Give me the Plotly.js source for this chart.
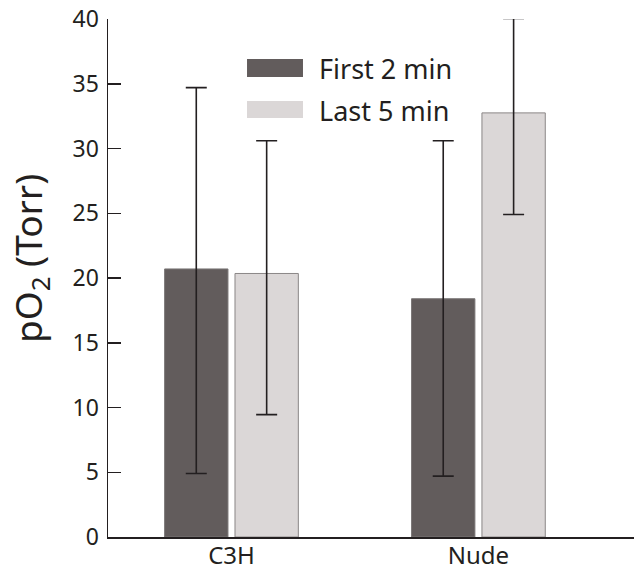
<!DOCTYPE html>
<html>
<head>
<meta charset="utf-8">
<script src="https://cdn.plot.ly/plotly-3.0.1.min.js"></script>
<style>html,body{margin:0;padding:0;background:#fff;}#chart{width:634px;height:571px;}</style>
</head>
<body>
<div id="chart"></div>
<script>
const categories = ['C3H', 'Nude'];
const seriesNames = ['First 2 min', 'Last 5 min'];
const first2Mean = [20.7, 18.4];
const first2Upper = [34.7, 30.6];
const first2Lower = [4.9, 4.7];
const last5Mean = [20.35, 32.75];
const last5Upper = [30.6, 40.05];
const last5Lower = [9.45, 24.9];
const yTicks = [0, 5, 10, 15, 20, 25, 30, 35, 40];
const yTitle = 'pO<sub>2</sub> (Torr)';

const FONT = 'Noto Sans, Open Sans, sans-serif';
const INK = '#231f20';
const DARK = '#625c5c';
const LIGHT = '#dbd7d7';

function errBar(mean, upper, lower) {
  return {
    type: 'data', symmetric: false,
    array: mean.map((m, i) => upper[i] - m),
    arrayminus: mean.map((m, i) => m - lower[i]),
    color: INK, thickness: 1.6, width: 10.5
  };
}

const traces = [
  { type: 'bar', name: seriesNames[0], x: categories, y: first2Mean, cliponaxis: false,
    marker: { color: DARK, line: { color: '#7a7676', width: 1 } },
    error_y: errBar(first2Mean, first2Upper, first2Lower), showlegend: false },
  { type: 'bar', name: seriesNames[1], x: categories, y: last5Mean, cliponaxis: false,
    marker: { color: LIGHT, line: { color: '#8a8686', width: 1 } },
    error_y: errBar(last5Mean, last5Upper, last5Lower), showlegend: false }
];

const layout = {
  width: 634, height: 571,
  margin: { l: 108, r: 0, t: 19, b: 34 },
  paper_bgcolor: '#fff', plot_bgcolor: '#fff',
  barmode: 'group', bargap: 0.43, bargroupgap: 0.1,
  font: { family: FONT, color: INK },
  showlegend: false,
  xaxis: {
    type: 'category', range: [-0.5, 1.63],
    showline: true, linecolor: INK, linewidth: 1.5,
    ticks: '', showgrid: false, zeroline: false,
    ticklabelstandoff: -3,
    tickfont: { family: FONT, size: 24, color: INK }
  },
  yaxis: {
    range: [0, 40], tickvals: yTicks, ticktext: yTicks.map(String),
    showline: true, linecolor: INK, linewidth: 1.5,
    ticks: 'inside', ticklen: 13, tickwidth: 1.5, tickcolor: INK,
    showgrid: false, zeroline: false,
    ticklabelstandoff: 3,
    tickfont: { family: FONT, size: 23, color: INK }
  },
  shapes: [
    { type: 'rect', xref: 'paper', yref: 'paper', x0: 0.2643, x1: 0.3707, y0: 0.888, y1: 0.9228,
      fillcolor: DARK, line: { width: 0 } },
    { type: 'rect', xref: 'paper', yref: 'paper', x0: 0.2643, x1: 0.3707, y0: 0.8089, y1: 0.8417,
      fillcolor: LIGHT, line: { width: 0 } }
  ],
  annotations: [
    { xref: 'paper', yref: 'paper', x: 0.3973, y: 0.9054, xanchor: 'left', yanchor: 'middle',
      text: seriesNames[0], showarrow: false, font: { family: FONT, size: 27, color: INK } },
    { xref: 'paper', yref: 'paper', x: 0.3973, y: 0.8243, xanchor: 'left', yanchor: 'middle',
      text: seriesNames[1], showarrow: false, font: { family: FONT, size: 27, color: INK } },
    { xref: 'paper', yref: 'paper', x: -0.148, y: 0.537, xanchor: 'center', yanchor: 'middle',
      textangle: -90, text: yTitle, showarrow: false, font: { family: FONT, size: 37, color: INK } }
  ]
};

Plotly.newPlot('chart', traces, layout, { displayModeBar: false, staticPlot: true });
</script>
</body>
</html>
